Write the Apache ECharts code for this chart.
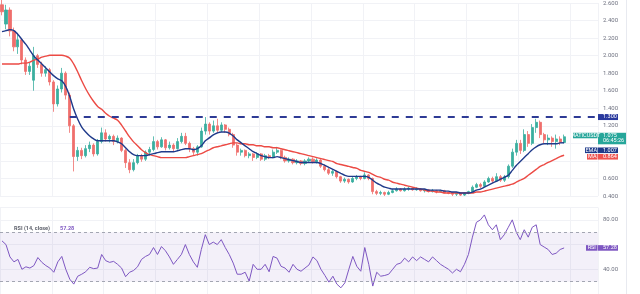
<!DOCTYPE html>
<html><head><meta charset="utf-8">
<script src="https://cdn.jsdelivr.net/npm/echarts@6/dist/echarts.min.js"></script>
<style>html,body{margin:0;padding:0;background:#fff}#c{width:640px;height:294px}</style>
</head><body><div id="c"></div>
<script>
// ---- data ----
const opens = [2.58,2.36,2.52,2.28,2.10,2.18,1.95,1.82,1.72,2.00,
1.90,1.80,1.84,1.70,1.45,1.62,1.80,1.55,1.20,0.85,
0.92,0.86,0.94,0.98,0.88,1.02,1.12,1.05,1.08,1.02,
1.06,0.92,0.78,0.70,0.78,0.86,0.82,0.90,0.93,1.02,
0.96,1.04,0.95,0.98,0.94,1.02,1.08,1.00,0.94,0.90,
0.96,1.14,1.22,1.14,1.20,1.15,1.21,1.16,1.10,0.98,
0.90,0.92,0.86,0.88,0.84,0.88,0.82,0.86,0.84,0.90,
0.92,0.84,0.80,0.82,0.78,0.80,0.77,0.80,0.82,0.79,
0.81,0.74,0.70,0.66,0.68,0.62,0.57,0.59,0.56,0.60,
0.62,0.60,0.64,0.60,0.45,0.43,0.44,0.42,0.44,0.46,
0.48,0.46,0.48,0.49,0.47,0.48,0.46,0.47,0.45,0.46,
0.45,0.46,0.44,0.43,0.42,0.43,0.41,0.43,0.45,0.50,
0.53,0.51,0.56,0.60,0.57,0.62,0.58,0.62,0.74,0.90,
1.00,0.92,1.10,1.00,1.18,1.24,1.10,1.04,1.06,1.02,
1.05,1.01];
const closes = [2.50,2.52,2.28,2.10,2.18,1.95,1.82,1.88,2.00,1.90,
1.80,1.84,1.70,1.45,1.62,1.80,1.55,1.20,0.85,0.92,
0.86,0.94,0.98,0.88,1.02,1.12,1.05,1.08,1.02,1.06,
0.92,0.78,0.70,0.78,0.86,0.82,0.90,0.93,1.02,0.96,
1.04,0.95,0.98,0.94,1.02,1.08,1.00,0.94,0.90,0.96,
1.14,1.22,1.14,1.20,1.15,1.21,1.16,1.10,0.98,0.90,
0.92,0.86,0.88,0.84,0.88,0.82,0.86,0.84,0.90,0.92,
0.84,0.80,0.82,0.78,0.80,0.77,0.80,0.82,0.79,0.81,
0.74,0.70,0.66,0.68,0.62,0.57,0.59,0.56,0.60,0.62,
0.60,0.64,0.60,0.45,0.43,0.44,0.42,0.44,0.46,0.48,
0.46,0.48,0.49,0.47,0.48,0.46,0.47,0.45,0.46,0.45,
0.46,0.44,0.43,0.42,0.43,0.41,0.43,0.45,0.50,0.53,
0.51,0.56,0.60,0.57,0.62,0.58,0.62,0.74,0.90,1.00,
0.92,1.10,1.00,1.18,1.24,1.10,1.04,1.06,1.02,1.05,
1.01,1.075];
const lows = [2.46,2.30,2.22,2.05,2.02,1.90,1.78,1.78,1.60,1.86,
1.76,1.76,1.66,1.36,1.42,1.58,1.50,1.12,0.68,0.80,
0.82,0.84,0.90,0.85,0.86,1.00,1.02,1.01,0.98,1.00,
0.90,0.72,0.66,0.68,0.76,0.79,0.80,0.86,0.91,0.93,
0.95,0.92,0.93,0.90,0.93,1.00,0.98,0.90,0.86,0.86,
0.95,1.10,1.10,1.12,1.12,1.13,1.12,1.08,0.95,0.86,
0.86,0.84,0.83,0.80,0.82,0.80,0.80,0.82,0.83,0.88,
0.82,0.78,0.78,0.76,0.76,0.75,0.75,0.78,0.77,0.77,
0.72,0.68,0.64,0.63,0.60,0.55,0.55,0.54,0.55,0.58,
0.58,0.59,0.58,0.42,0.41,0.41,0.40,0.41,0.43,0.45,
0.45,0.45,0.46,0.46,0.46,0.45,0.44,0.44,0.44,0.43,
0.44,0.43,0.42,0.40,0.40,0.40,0.40,0.42,0.44,0.49,
0.49,0.50,0.55,0.55,0.56,0.56,0.56,0.60,0.72,0.86,
0.88,0.90,0.96,0.98,1.12,1.06,1.00,0.98,0.96,0.94,
0.98,1.00];
const highs = [2.65,2.58,2.55,2.32,2.26,2.20,1.98,1.92,2.10,2.02,
1.93,1.88,1.86,1.72,1.66,1.86,1.82,1.58,1.22,0.96,
0.95,0.98,1.02,1.00,1.05,1.18,1.16,1.10,1.10,1.09,
1.07,0.94,0.82,0.82,0.88,0.88,0.92,0.96,1.08,1.04,
1.07,1.05,1.02,1.00,1.06,1.12,1.12,1.02,0.96,0.98,
1.18,1.30,1.24,1.26,1.28,1.24,1.22,1.18,1.12,1.00,
0.94,0.93,0.90,0.89,0.90,0.89,0.88,0.88,0.93,0.96,
0.93,0.86,0.84,0.83,0.82,0.81,0.82,0.84,0.84,0.83,
0.82,0.76,0.72,0.70,0.69,0.63,0.61,0.60,0.62,0.64,
0.63,0.67,0.65,0.61,0.47,0.46,0.45,0.46,0.48,0.50,
0.49,0.50,0.51,0.50,0.50,0.49,0.48,0.48,0.48,0.47,
0.47,0.47,0.45,0.44,0.44,0.44,0.44,0.46,0.52,0.55,
0.55,0.58,0.62,0.62,0.66,0.64,0.64,0.76,0.94,1.04,
1.04,1.16,1.14,1.22,1.28,1.26,1.12,1.10,1.08,1.10,
1.08,1.10];
const ema20 = [2.274,2.285,2.297,2.285,2.241,2.184,2.128,2.061,1.994,1.949,
1.904,1.859,1.814,1.769,1.736,1.713,1.646,1.534,1.388,1.275,
1.186,1.130,1.085,1.051,1.029,1.029,1.029,1.029,1.029,1.017,
0.995,0.950,0.905,0.871,0.860,0.860,0.860,0.871,0.883,0.894,
0.905,0.905,0.905,0.905,0.916,0.928,0.939,0.939,0.928,0.939,
0.972,1.029,1.062,1.096,1.118,1.130,1.130,1.118,1.085,1.040,
1.006,0.972,0.939,0.905,0.883,0.860,0.849,0.838,0.838,0.849,
0.838,0.826,0.815,0.804,0.793,0.782,0.782,0.782,0.782,0.782,
0.770,0.748,0.725,0.703,0.681,0.658,0.636,0.624,0.624,0.624,
0.624,0.624,0.613,0.580,0.546,0.523,0.501,0.490,0.479,0.479,
0.479,0.479,0.479,0.479,0.479,0.479,0.479,0.467,0.467,0.467,
0.467,0.456,0.456,0.445,0.445,0.434,0.434,0.434,0.445,0.467,
0.479,0.501,0.523,0.546,0.568,0.591,0.613,0.636,0.692,0.748,
0.793,0.838,0.883,0.928,0.961,0.984,0.995,0.995,0.995,0.995,
1.006,1.007];
const sma50 = [1.904,1.904,1.904,1.904,1.904,1.915,1.915,1.926,1.949,1.960,
1.982,1.994,2.005,2.005,2.005,2.005,1.994,1.971,1.904,1.814,
1.713,1.623,1.545,1.477,1.421,1.388,1.343,1.309,1.287,1.264,
1.208,1.141,1.073,1.017,0.972,0.927,0.894,0.871,0.860,0.849,
0.838,0.838,0.838,0.838,0.838,0.838,0.838,0.849,0.860,0.871,
0.883,0.905,0.927,0.950,0.961,0.972,0.984,0.995,1.006,1.006,
0.995,0.995,0.984,0.984,0.972,0.972,0.961,0.961,0.950,0.950,
0.939,0.927,0.916,0.905,0.894,0.883,0.871,0.860,0.849,0.838,
0.826,0.815,0.804,0.793,0.770,0.759,0.748,0.737,0.725,0.714,
0.692,0.681,0.669,0.647,0.624,0.613,0.591,0.580,0.557,0.546,
0.535,0.523,0.512,0.501,0.490,0.479,0.467,0.456,0.456,0.445,
0.445,0.434,0.434,0.434,0.434,0.434,0.434,0.434,0.434,0.445,
0.445,0.456,0.467,0.479,0.490,0.501,0.512,0.523,0.535,0.557,
0.580,0.602,0.636,0.669,0.703,0.737,0.759,0.782,0.804,0.826,
0.849,0.864];
const rsi14 = [63,60,50,46,48,40,42,41,43,49.5,
45.6,43,41,37.6,46,50.4,40,32,28,34.4,
36,38,41.6,40.5,41,52,47,45.6,46.4,44,
41,34,37.6,39,42,48,50.4,52,57.6,52,
58.4,55,50,44,48,52,60,52,46,41.6,
56,68,60,62,60,64,57.6,52,45,36,
36,37.6,30.4,44,40,40,44,38,50.4,49,
42.4,41,37.6,44,40,38.4,41,43.5,50,47,
40,35,29.6,34.4,28,25,29,40,50.4,42.4,
38.4,57.6,44,26.4,37.6,34.4,35,36,40,44,
45,49,46,50,47,50,48,46,50,47,
44,42,40,37,40,38,44,52,66,78,
80,84,76,72,76,64,68,74,80,70,
64,72,66,74,76,60,58,56,52,53,
56,57.28];
const resistance = 1.300;
const lastPrice = 1.075, lastEma = 1.007, lastSma = 0.864, lastRsi = 57.28;
const countdown = '06:45:26';
const symbol = 'MATICUSDT';
const rsiLabels = [40, 80];
const hiddenPriceLabels = [0.8, 1.0, 1.2 + 0.1];
const categoryCount = 150;
const categories = Array.from({length: categoryCount}, (_, i) => 'D' + (i + 1));

// ---- chart ----
const gridRight = 42;
const FONT = 'Roboto, "DejaVu Sans", sans-serif';
const chart = echarts.init(document.getElementById('c'), null, {renderer: 'canvas'});
const candles = opens.map((o, i) => [o, closes[i], lows[i], highs[i]]);
const xBase = {
  type: 'category', data: categories, boundaryGap: true,
  axisLine: {show: false}, axisTick: {show: false}, axisLabel: {show: false},
  splitLine: {show: true, interval: 12, lineStyle: {color: '#f1f2f6', width: 1}}
};
const option = {
  animation: false,
  backgroundColor: '#ffffff',
  title: {
    left: 9, top: 215,
    text: '{a|RSI (14, close)}  {b|' + lastRsi.toFixed(2) + '}',
    textStyle: {rich: {
      a: {fontSize: 5.5, color: '#5d606b', fontFamily: FONT},
      b: {fontSize: 5.5, color: '#7e57c2', fontFamily: FONT}
    }}
  },
  grid: [
    {left: 0, right: gridRight, top: 0, height: 196},
    {left: 0, right: gridRight, top: 207.5, height: 87.5}
  ],
  xAxis: [Object.assign({gridIndex: 0}, xBase), Object.assign({gridIndex: 1}, xBase)],
  yAxis: [
    {gridIndex: 0, type: 'value', position: 'right', min: 0.4, max: 2.6, interval: 0.2,
     axisLine: {show: false}, axisTick: {show: false},
     axisLabel: {fontSize: 6, color: '#6f7280', fontFamily: FONT, margin: 5,
       formatter: v => hiddenPriceLabels.some(h => Math.abs(h - v) < 1e-6) ? '' : v.toFixed(3)},
     splitLine: {lineStyle: {color: '#f1f2f6', width: 1}}},
    {gridIndex: 1, type: 'value', position: 'right', min: 20, max: 90, interval: 20,
     axisLine: {show: false}, axisTick: {show: false},
     axisLabel: {fontSize: 6, color: '#6f7280', fontFamily: FONT, margin: 5,
       formatter: v => rsiLabels.indexOf(v) >= 0 ? v.toFixed(2) : ''},
     splitLine: {lineStyle: {color: '#f1f2f6', width: 1}}}
  ],
  series: [
    {type: 'candlestick', xAxisIndex: 0, yAxisIndex: 0, data: candles, barWidth: 2.6,
     itemStyle: {color: '#3aae9f', color0: '#ef6f6c', borderColor: '#3aae9f', borderColor0: '#ef6f6c', borderWidth: 0.8},
     markLine: {silent: true, symbol: 'none', animation: false,
       lineStyle: {color: '#2e3b95', width: 2, type: [7, 7]},
       label: {show: false},
       data: [[{coord: [17, resistance]}, {coord: [categoryCount - 1, resistance]}]]}},
    {type: 'line', xAxisIndex: 0, yAxisIndex: 0, data: sma50, showSymbol: false, smooth: 0.3,
     lineStyle: {color: '#ec4a44', width: 1.4}, z: 3},
    {type: 'line', xAxisIndex: 0, yAxisIndex: 0, data: ema20, showSymbol: false, smooth: 0.3,
     lineStyle: {color: '#1f3a8a', width: 1.4}, z: 4},
    {type: 'line', xAxisIndex: 1, yAxisIndex: 1, data: rsi14, showSymbol: false,
     lineStyle: {color: '#7e57c2', width: 1},
     markArea: {silent: true, itemStyle: {color: 'rgba(126,87,194,0.09)'},
       data: [[{yAxis: 30}, {yAxis: 70}]]},
     markLine: {silent: true, symbol: 'none', label: {show: false},
       lineStyle: {color: '#a3a6b2', width: 1, type: [3, 3]},
       data: [{yAxis: 70}, {yAxis: 30}]}}
  ]
};
chart.setOption(option);

// ---- price-scale tags, placed through the axes ----
const W = chart.getWidth();
const xR = W - gridRight;
const txtX = xR + 5;
function rect(x, y, w, h, fill) {
  return {type: 'rect', shape: {x: x, y: y, width: w, height: h}, style: {fill: fill}, z: 100};
}
function text(x, y, t, align, fill) {
  return {type: 'text', z: 101, style: {text: t, x: x, y: y, align: align || 'left', verticalAlign: 'middle',
    fill: fill || '#ffffff', font: '5.5px ' + FONT}};
}
const yRes = chart.convertToPixel({yAxisIndex: 0}, resistance);
const yPx = chart.convertToPixel({yAxisIndex: 0}, lastPrice);
const yEmaRaw = chart.convertToPixel({yAxisIndex: 0}, lastEma);
const ySmaRaw = chart.convertToPixel({yAxisIndex: 0}, lastSma);
const yRsi = chart.convertToPixel({yAxisIndex: 1}, lastRsi);
const pxBoxBottom = yPx + 7.5;
const yEma = Math.max(yEmaRaw, pxBoxBottom + 6);
const ySma = Math.max(ySmaRaw, yEma + 6.5);
const g = [];
// resistance value
g.push(rect(xR, yRes - 3, 20, 6, '#2a3a9e'), text(txtX, yRes, resistance.toFixed(3)));
// symbol + price + countdown
g.push(rect(xR - 25, yPx - 4, 24.5, 5.5, '#26a69a'), text(xR - 12.75, yPx - 1.2, symbol, 'center'));
g.push(rect(xR, yPx - 4, 28, 11.5, '#26a69a'), text(txtX, yPx - 1.1, lastPrice.toFixed(3)), text(txtX, yPx + 4.3, countdown));
// EMA
g.push(rect(xR - 13, yEma - 2.8, 12.5, 5.6, '#1f3a8a'), text(xR - 6.75, yEma, 'EMA', 'center'));
g.push(rect(xR, yEma - 2.8, 20, 5.6, '#1f3a8a'), text(txtX, yEma, lastEma.toFixed(3)));
// MA
g.push(rect(xR - 11, ySma - 2.8, 10.5, 5.6, '#ef5350'), text(xR - 5.75, ySma, 'MA', 'center'));
g.push(rect(xR, ySma - 2.8, 20, 5.6, '#ef5350'), text(txtX, ySma, lastSma.toFixed(3)));
// RSI
g.push(rect(xR - 12, yRsi - 2.8, 11.5, 5.6, '#7e57c2'), text(xR - 6.25, yRsi, 'RSI', 'center'));
g.push(rect(xR, yRsi - 2.8, 20, 5.6, '#7e57c2'), text(txtX, yRsi, lastRsi.toFixed(2)));
// right border of the price scale
g.push({type: 'line', z: 90, shape: {x1: W - 13.5, y1: 0, x2: W - 13.5, y2: chart.getHeight()},
  style: {stroke: '#e8eaf0', lineWidth: 1}});
chart.setOption({graphic: g});
</script></body></html>
